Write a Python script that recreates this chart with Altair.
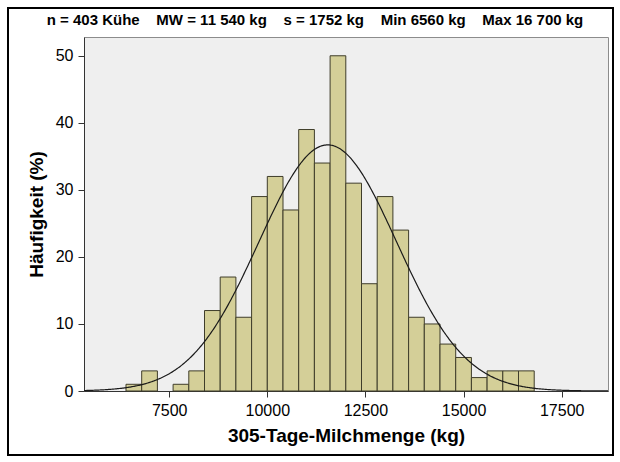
import altair as alt
import pandas as pd

# Histogram bins (kg) and counts
bin_start = [6400, 6800, 7200, 7600, 8000, 8400, 8800, 9200, 9600, 10000,
             10400, 10800, 11200, 11600, 12000, 12400, 12800, 13200, 13600,
             14000, 14400, 14800, 15200, 15600, 16000, 16400]
bin_end = [6800, 7200, 7600, 8000, 8400, 8800, 9200, 9600, 10000, 10400,
           10800, 11200, 11600, 12000, 12400, 12800, 13200, 13600, 14000,
           14400, 14800, 15200, 15600, 16000, 16400, 16800]
counts = [1, 3, 0, 1, 3, 12, 17, 11, 29, 32, 27, 39, 34, 50, 31, 16, 29, 24,
          11, 10, 7, 5, 2, 3, 3, 3]

x_ticks = [7500, 10000, 12500, 15000, 17500]
y_ticks = [0, 10, 20, 30, 40, 50]

N = 403
MEAN = 11540
SD = 1752
BIN_W = 400

title_parts = ["n = 403 Kühe", "MW = 11 540 kg", "s = 1752 kg", "Min 6560 kg", "Max 16 700 kg"]
GAP = "\u00a0" * 4
title_text = [GAP.join(p.replace(" ", "\u00a0") for p in title_parts)]

df = pd.DataFrame({"start": bin_start, "end": bin_end, "count": counts})
df = df[df["count"] > 0]

FONT = "Liberation Sans"
x_scale = alt.Scale(domain=[5330, 18680], nice=False, zero=False)
y_scale = alt.Scale(domain=[0, 52.8], nice=False)

bars = alt.Chart(df).mark_rect(
    fill="#D4CF98", stroke="#3f3d2a", strokeWidth=1
).encode(
    x=alt.X("start:Q", scale=x_scale,
            axis=alt.Axis(values=x_ticks, format="d", title="305-Tage-Milchmenge (kg)",
                          titlePadding=8)),
    x2="end:Q",
    y=alt.Y("count:Q", scale=y_scale,
            axis=alt.Axis(values=y_ticks, title="Häufigkeit (%)", titlePadding=9)),
    y2=alt.datum(0),
)

curve = alt.Chart(alt.sequence(5330, 18690, 25, as_="x")).transform_calculate(
    y=f"{N * BIN_W} * densityNormal(datum.x, {MEAN}, {SD})"
).mark_line(color="#1a1a1a", strokeWidth=1.2, clip=True).encode(
    x=alt.X("x:Q", scale=x_scale),
    y=alt.Y("y:Q", scale=y_scale),
)

frame = alt.Chart(pd.DataFrame({"a": [0]})).mark_rect(
    fill="transparent", stroke="black", strokeWidth=2
).encode(
    x=alt.value(-76), x2=alt.value(529), y=alt.value(-29), y2=alt.value(418)
)

head = alt.Chart(pd.DataFrame({"t": title_text})).mark_text(
    font=FONT, fontSize=15, fontWeight="bold", color="black",
    align="center", baseline="middle"
).encode(
    text="t:N", x=alt.value(231), y=alt.value(-17)
)

chart = alt.layer(bars, curve, frame, head).properties(
    width=524, height=354,
    autosize=alt.AutoSizeParams(type="none"),
    padding={"left": 84, "top": 37, "right": 12, "bottom": 71},
    background="white",
).configure_view(
    fill="#EFEFEF", stroke="#8c8c8c", strokeWidth=1
).configure_axis(
    labelFont=FONT, labelFontSize=16, labelColor="black",
    titleFont=FONT, titleFontSize=19, titleFontWeight="bold", titleColor="black",
    domainColor="#333333", tickColor="#333333", tickSize=6, grid=False,
    labelPadding=5,
)

chart.save("out.html", embed_options={"renderer": "svg", "actions": False})
